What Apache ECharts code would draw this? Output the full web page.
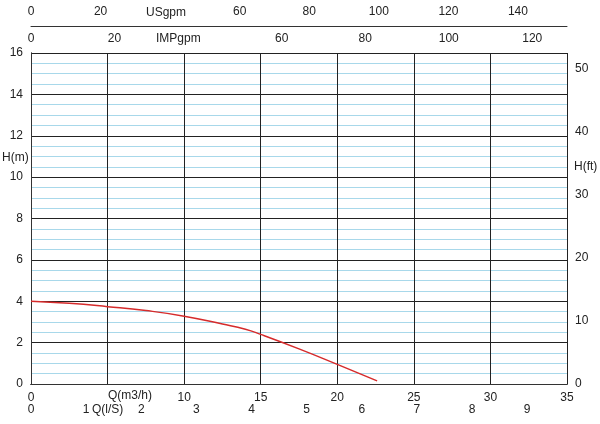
<!DOCTYPE html><html><head><meta charset="utf-8">
<script src="https://cdn.jsdelivr.net/npm/echarts@6/dist/echarts.min.js"></script>
<style>html,body{margin:0;padding:0;background:#fff}#c{width:600px;height:424px}</style></head><body><div id="c"></div>
<script>
const flowM3h = [0, 2.5, 5, 7.5, 10, 12.5, 14, 15, 17.5, 20, 22.6];
const headM = [4.0, 3.9, 3.74, 3.55, 3.28, 2.9, 2.65, 2.4, 1.7, 0.95, 0.15];
const Q_MAX = 35, H_MAX = 16;
const ftPerM = 3.28084, lsPerM3h = 1/3.6, usPerM3h = 4.40287, impPerM3h = 3.66615;
const F = 'Arial, Liberation Sans, sans-serif';
const lab = {color:'#222', fontSize:12, fontFamily:F};
const line = {show:true, lineStyle:{color:'#333', width:1}};
const hide = v => (x => (x===v ? '' : String(x)));
const chart = echarts.init(document.getElementById('c'));
const opt = {
  animation:false,
  grid:{left:31, right:33, top:53, bottom:40, containLabel:false, outerBoundsMode:'none'},
  xAxis:[
    {type:'value', min:0, max:Q_MAX, interval:5, position:'bottom', axisLine:line, axisTick:{show:false}, axisLabel:Object.assign({formatter:hide(5)},lab), splitLine:{show:true,lineStyle:{color:'#222',width:1}}},
    {type:'value', min:0, max:Q_MAX*lsPerM3h, interval:1, position:'bottom', offset:38, axisLine:line, axisTick:{show:false}, axisLabel:Object.assign({inside:true,margin:6,showMaxLabel:false},lab), splitLine:{show:false}},
    {type:'value', min:0, max:Q_MAX*impPerM3h, interval:20, position:'top', axisLine:line, axisTick:{show:false}, axisLabel:Object.assign({showMaxLabel:false,formatter:hide(40)},lab), splitLine:{show:false}},
    {type:'value', min:0, max:Q_MAX*usPerM3h, interval:20, position:'top', offset:27, axisLine:line, axisTick:{show:false}, axisLabel:Object.assign({showMaxLabel:false,formatter:hide(40)},lab), splitLine:{show:false}}
  ],
  yAxis:[
    {type:'value', min:0, max:H_MAX, interval:0.5, position:'left', axisLine:{show:false}, axisTick:{show:false}, axisLabel:{show:false}, splitLine:{show:true,lineStyle:{color:'#a8d8ea',width:1}}, z:0},
    {type:'value', min:0, max:H_MAX, interval:2, position:'left', axisLine:line, axisTick:{show:false}, axisLabel:lab, splitLine:{show:true,lineStyle:{color:'#222',width:1}}},
    {type:'value', min:0, max:H_MAX*ftPerM, interval:10, position:'right', axisLine:line, axisTick:{show:false}, axisLabel:Object.assign({showMaxLabel:false},lab), splitLine:{show:false}}
  ],
  graphic:[
    {type:'text', left:2, top:152, style:{text:'H(m)', fill:'#222', font:'12px '+F}},
    {type:'text', left:574, top:161, style:{text:'H(ft)', fill:'#222', font:'12px '+F}},
    {type:'text', left:108, top:390, style:{text:'Q(m3/h)', fill:'#222', font:'12px '+F}},
    {type:'text', left:92, top:404, style:{text:'Q(l/S)', fill:'#222', font:'12px '+F}},
    {type:'text', left:146, top:7, style:{text:'USgpm', fill:'#222', font:'12px '+F}},
    {type:'text', left:156, top:33, style:{text:'IMPgpm', fill:'#222', font:'12px '+F}}
  ],
  series:[{type:'line', xAxisIndex:0, yAxisIndex:1, smooth:true, symbol:'none', data:flowM3h.map((q,i)=>[q,headM[i]]), lineStyle:{color:'#d62b2b',width:1.5}}]
};
chart.setOption(opt);
</script></body></html>
